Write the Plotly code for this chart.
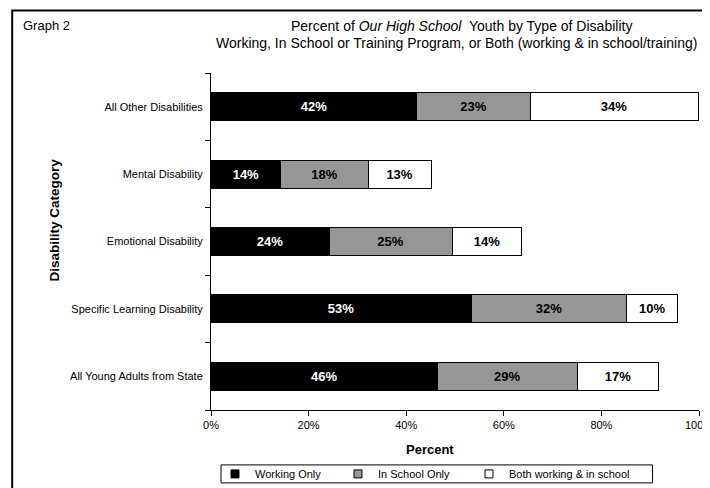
import plotly.graph_objects as go

# ---- data (bottom to top in plot order) ----
categories = [
    "All Young Adults from State",
    "Specific Learning Disability",
    "Emotional Disability",
    "Mental Disability",
    "All Other Disabilities",
]
working_only = [46.4, 53.3, 24.2, 14.3, 42.2]
in_school_only = [28.6, 31.9, 25.2, 17.9, 23.2]
both_work_school = [16.8, 10.4, 14.3, 12.9, 34.4]
series_names = ["Working Only", "In School Only", "Both working & in school"]
x_tick_vals = [0, 20, 40, 60, 80, 100]
x_tick_labels = ["0%", "20%", "40%", "60%", "80%", "100%"]

# ---- geometry helpers (targets given in window pixels) ----
OFF = 8  # default page margin of the html body
WIN_W, WIN_H = 710, 488
W, H = WIN_W - OFF, WIN_H - OFF
PL, PR, PT, PB = 211, 699.5, 72.5, 410  # plot area in window pixels
L, T = PL - OFF, PT - OFF
R, B = W - (PR - OFF), H - (PB - OFF)
PW, PH = PR - PL, PB - PT
FONT = "Liberation Sans, Arial, sans-serif"


def px(x):
    return (x - PL) / PW


def py(y):
    return (PB - y) / PH


fig = go.Figure()

series = [working_only, in_school_only, both_work_school]
fills = ["#000000", "#969696", "#ffffff"]
text_cols = ["#ffffff", "#000000", "#000000"]
legend_widths = [78, 86, 130]

for name, vals, fc, tc in zip(series_names, series, fills, text_cols):
    fig.add_trace(go.Bar(
        y=categories, x=vals, orientation="h", name=name,
        marker=dict(color=fc, line=dict(color="#000000", width=1)),
        texttemplate="%{x:.0f}%", textposition="inside",
        insidetextanchor="middle", textangle=0,
        textfont=dict(color=tc, size=13, family=FONT, weight="bold"),
        showlegend=False, hoverinfo="skip",
    ))

# legend entries
for name, fc, lw in zip(series_names, fills, legend_widths):
    fig.add_trace(go.Scatter(
        x=[None], y=[None], mode="markers", name=name,
        marker=dict(symbol="square", size=8, color=fc,
                    line=dict(color="#000000", width=1)),
        showlegend=True, legendwidth=lw,
    ))

fig.update_layout(
    width=W, height=H,
    margin=dict(l=L, r=R, t=T, b=B, autoexpand=False),
    paper_bgcolor="white", plot_bgcolor="white",
    barmode="stack", bargap=0.586,
    font=dict(family=FONT, size=11, color="black"),
    showlegend=True,
    legend=dict(
        orientation="h", traceorder="normal",
        x=px(215), xanchor="left",
        y=py(474), yanchor="middle",
        borderwidth=0, bgcolor="rgba(0,0,0,0)",
        font=dict(size=11, family=FONT, color="black"),
        itemwidth=30,
    ),
    xaxis=dict(
        range=[0, 100], tickvals=x_tick_vals, ticktext=x_tick_labels,
        showline=True, linecolor="black", linewidth=1,
        ticks="outside", ticklen=5, tickcolor="black",
        showgrid=False, zeroline=False, tickfont=dict(size=11),
        fixedrange=True, automargin=False, ticklabeloverflow="allow",
    ),
    yaxis=dict(
        type="category", categoryorder="array", categoryarray=categories,
        showline=True, linecolor="black", linewidth=1,
        ticks="outside", ticklen=5, tickcolor="black",
        tickson="boundaries", showgrid=False, zeroline=False,
        tickfont=dict(size=11), fixedrange=True, automargin=False,
        ticklabelstandoff=5,
    ),
)

annotations = [
    dict(text="Graph 2", x=px(21), y=py(25), xanchor="left", yanchor="middle",
         font=dict(size=13)),
    dict(text="Percent of <i>Our High School</i>  Youth by Type of Disability",
         x=px(462), y=py(25.5), xanchor="center", yanchor="middle",
         font=dict(size=14)),
    dict(text="Working, In School or Training Program, or Both (working &amp; in school/training)",
         x=px(456.5), y=py(42), xanchor="center", yanchor="middle",
         font=dict(size=14)),
    dict(text="<b>Percent</b>", x=px(430), y=py(450), xanchor="center",
         yanchor="middle", font=dict(size=13)),
    dict(text="<b>Disability Category</b>", x=px(54), y=py(220), xanchor="center",
         yanchor="middle", textangle=-90, font=dict(size=13.5)),
]
for a in annotations:
    a.update(xref="paper", yref="paper", showarrow=False)
fig.update_layout(annotations=annotations)

# outer frame (extends past the bottom/right of the picture)
fig.add_shape(type="rect", xref="paper", yref="paper",
              x0=px(12), y0=py(10), x1=px(740), y1=py(520),
              line=dict(color="black", width=2), layer="above")
# legend box
fig.add_shape(type="rect", xref="paper", yref="paper",
              x0=px(221), y0=py(465), x1=px(653), y1=py(483),
              line=dict(color="black", width=1), layer="above")

fig.write_html("out.html")
